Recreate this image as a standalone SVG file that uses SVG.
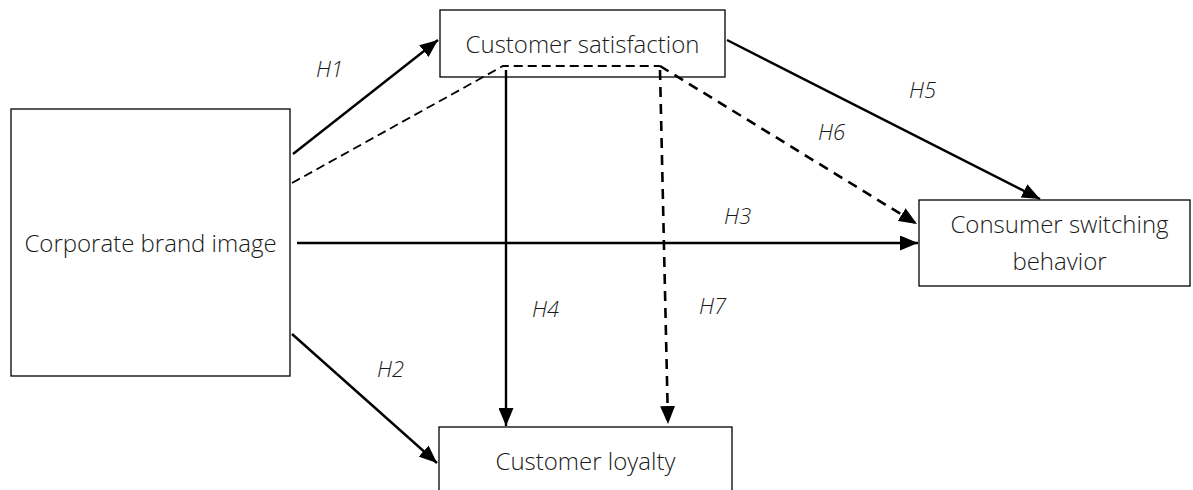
<svg xmlns="http://www.w3.org/2000/svg" width="1193" height="490" viewBox="0 0 1193 490">
<defs>
<style>
.box{fill:#fff;stroke:#000;stroke-width:1.3}
.t{font-family:"Open Sans","Noto Sans",sans-serif;font-weight:300;font-size:24px;fill:#1a1a1a;text-anchor:middle}
.h{font-family:"Open Sans","Noto Sans",sans-serif;font-weight:300;font-style:italic;font-size:22px;fill:#1a1a1a}
.s{fill:none;stroke:#000;stroke-width:2.4}
.d{fill:none;stroke:#000;stroke-width:1.8;stroke-dasharray:9 5}
.dd{fill:none;stroke:#000;stroke-width:2.6;stroke-dasharray:10 7}
</style>
<marker id="ah" markerUnits="userSpaceOnUse" markerWidth="19" markerHeight="15" refX="18" refY="7.5" orient="auto">
<path d="M0,0 L18,7.5 L0,15 z" fill="#000"/>
</marker>
</defs>
<rect width="1193" height="490" fill="#fff"/>
<g id="connectors">
<line class="s" x1="293" y1="154" x2="438" y2="40" marker-end="url(#ah)"/>
<polyline class="d" points="292,183 503,66 660,66"/>
<line class="dd" x1="660" y1="66" x2="917" y2="224" marker-end="url(#ah)"/>
<line class="dd" x1="660" y1="70" x2="668" y2="424" marker-end="url(#ah)"/>
<line class="s" x1="506" y1="70" x2="506" y2="426" marker-end="url(#ah)"/>
<line class="s" x1="727" y1="40" x2="1040" y2="199" marker-end="url(#ah)"/>
<line class="s" x1="297" y1="243" x2="918" y2="243" marker-end="url(#ah)"/>
<line class="s" x1="292" y1="334" x2="437" y2="463" marker-end="url(#ah)"/>
</g>
<g id="labels">
<text class="h" x="316" y="77">H1</text>
<text class="h" x="377" y="377">H2</text>
<text class="h" x="724" y="224">H3</text>
<text class="h" x="532" y="317">H4</text>
<text class="h" x="909" y="98">H5</text>
<text class="h" x="818" y="140">H6</text>
<text class="h" x="699" y="314">H7</text>
</g>
<g id="node-satisfaction">
<rect class="box" x="440" y="10" width="285" height="67" fill-opacity="0"/>
<text class="t" x="582.5" y="53">Customer satisfaction</text>
</g>
<g id="node-brand">
<rect class="box" x="11" y="109" width="279" height="267"/>
<text class="t" x="150.5" y="252">Corporate brand image</text>
</g>
<g id="node-switching">
<rect class="box" x="919" y="200" width="271" height="86"/>
<text class="t" x="1059.5" y="233">Consumer switching</text>
<text class="t" x="1059.5" y="270">behavior</text>
</g>
<g id="node-loyalty">
<rect class="box" x="439" y="427" width="293" height="70"/>
<text class="t" x="585.5" y="470">Customer loyalty</text>
</g>
</svg>
